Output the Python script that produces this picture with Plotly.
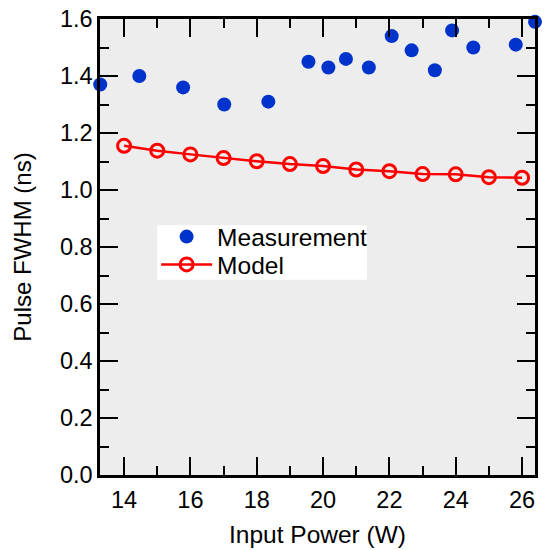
import plotly.graph_objects as go

meas_x = [13.28, 14.46, 15.78, 17.02, 18.35, 19.56, 20.16, 20.69, 21.38, 22.07, 22.67, 23.37, 23.89, 24.53, 25.81, 26.39]
meas_y = [1.37, 1.40, 1.36, 1.30, 1.31, 1.45, 1.43, 1.46, 1.43, 1.54, 1.49, 1.42, 1.56, 1.50, 1.51, 1.59]

model_x = [14, 15, 16, 17, 18, 19, 20, 21, 22, 23, 24, 25, 26]
model_y = [1.155, 1.138, 1.125, 1.112, 1.101, 1.091, 1.084, 1.072, 1.066, 1.056, 1.055, 1.045, 1.043]

FONT = "Liberation Sans, Arial, sans-serif"

fig = go.Figure()
fig.add_trace(go.Scatter(
    x=meas_x, y=meas_y, mode="markers", name="Measurement",
    marker=dict(color="rgb(0,51,204)", size=14, line=dict(width=0)),
    cliponaxis=False, legend="legend",
))
fig.add_trace(go.Scatter(
    x=model_x, y=model_y, mode="lines+markers", name="Model",
    line=dict(color="rgb(255,0,0)", width=2.5),
    marker=dict(symbol="circle-open", size=13, color="rgb(255,0,0)", line=dict(width=3)),
    cliponaxis=False, legend="legend2",
))

axis_common = dict(
    showline=True, linecolor="black", linewidth=2.5, mirror="allticks",
    ticks="inside", ticklen=18, tickwidth=2, tickcolor="black",
    showgrid=False, zeroline=False,
    tickfont=dict(family=FONT, size=23.5, color="black"),
)

fig.update_xaxes(
    range=[13.274, 26.39], dtick=2, tick0=0,
    minor=dict(dtick=1, ticks="inside", ticklen=9, tickwidth=2, tickcolor="black"),
    title=dict(text="Input Power (W)", font=dict(family=FONT, size=24.5, color="black"), standoff=14),
    ticklabelstandoff=2,
    **axis_common,
)
fig.update_yaxes(
    range=[0, 1.6], dtick=0.2, tick0=0, tickformat=".1f",
    minor=dict(dtick=0.1, ticks="inside", ticklen=9, tickwidth=2, tickcolor="black"),
    title=dict(text="Pulse FWHM (ns)", font=dict(family=FONT, size=24, color="black"), standoff=22),
    ticklabelstandoff=0,
    **axis_common,
)

leg_common = dict(
    xanchor="left", yanchor="top",
    bgcolor="rgba(0,0,0,0)", borderwidth=0,
    font=dict(family=FONT, size=24.5, color="black"),
    itemwidth=51,
)

fig.update_layout(
    width=544, height=550,
    margin=dict(l=100, r=6, t=15, b=75),
    plot_bgcolor="#ededed", paper_bgcolor="white",
    showlegend=True,
    legend=dict(x=0.129, y=0.572, **leg_common),
    legend2=dict(x=0.129, y=0.511, **leg_common),
    shapes=[dict(
        type="rect", xref="paper", yref="paper",
        x0=0.1314, x1=0.6137, y0=0.4283, y1=0.5478,
        fillcolor="white", line=dict(width=0), layer="below",
    )],
)

fig.write_html(
    "out.html",
    config={"displayModeBar": False},
    post_script="document.body.style.margin='0';document.body.style.padding='0';",
)
